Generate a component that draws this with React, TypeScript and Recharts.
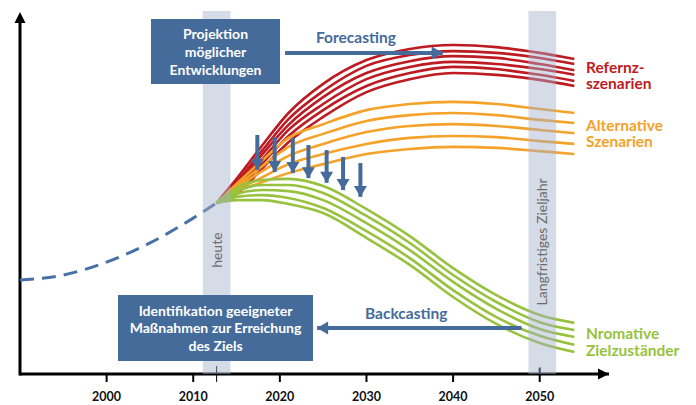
import React from "react";
import {
  ComposedChart,
  Line,
  Scatter,
  XAxis,
  YAxis,
  ReferenceArea,
  ReferenceLine,
  ReferenceDot,
} from "recharts";

const FONT = "Lato, 'Open Sans', sans-serif";
const BLUE = "#456b9b";
const RED = "#bd1a21";
const ORANGE = "#f5a22a";
const GREEN = "#97c23d";
const BAND = "#a3b0cc";

// x axis ticks
const TICKS = [2000, 2010, 2020, 2030, 2040, 2050];

// historic development (dashed)
const HIST_YEARS = [1990, 1995, 2000, 2005, 2010, 2012.7];
const HIST = [26.1, 27.5, 31.1, 36.4, 43.3, 47.5];

// scenario curves, all start at "heute"
const YEARS = [2012.7, 2015, 2018, 2021, 2025, 2030, 2035, 2040, 2045, 2050, 2054];

const REF_1 = [47.5, 54.2, 63.6, 72.5, 80.6, 87.2, 90.3, 91.4, 90.8, 89.2, 87.5];
const REF_2 = [47.5, 53.3, 62.2, 70.8, 78.6, 85.6, 88.6, 89.7, 89.2, 87.8, 86.1];
const REF_3 = [47.5, 52.5, 61.1, 69.2, 76.9, 83.6, 86.9, 88.3, 87.8, 86.1, 84.4];
const REF_4 = [47.5, 51.7, 59.7, 67.8, 75.0, 81.9, 85.3, 86.7, 86.1, 84.7, 83.1];
const REF_5 = [47.5, 50.8, 58.6, 66.1, 73.3, 80.0, 83.6, 85.3, 84.7, 83.1, 81.4];
const REF_6 = [47.5, 50.0, 57.2, 64.4, 71.4, 78.3, 81.9, 83.6, 83.1, 81.7, 80.0];

const ALT_1 = [47.5, 52.8, 59.4, 65.6, 69.4, 73.3, 75.0, 75.6, 75.0, 73.6, 72.5];
const ALT_2 = [47.5, 52.2, 57.8, 63.1, 66.7, 70.3, 71.9, 72.5, 71.9, 70.6, 69.7];
const ALT_3 = [47.5, 51.7, 56.4, 60.6, 63.9, 67.2, 68.9, 69.4, 68.9, 67.8, 66.9];
const ALT_4 = [47.5, 51.1, 54.7, 58.3, 61.1, 63.9, 65.6, 66.1, 65.8, 64.7, 63.9];
const ALT_5 = [47.5, 50.6, 53.3, 55.8, 58.3, 61.1, 62.5, 63.1, 62.8, 61.9, 61.1];

const NORM_1 = [47.5, 51.7, 53.9, 54.2, 52.2, 45.8, 38.3, 29.4, 21.9, 16.4, 14.2];
const NORM_2 = [47.5, 50.8, 52.5, 52.5, 50.3, 43.9, 36.4, 27.5, 20.0, 14.4, 12.2];
const NORM_3 = [47.5, 50.0, 51.1, 50.8, 48.3, 41.9, 34.4, 25.6, 18.1, 12.5, 10.3];
const NORM_4 = [47.5, 49.2, 49.7, 48.9, 46.1, 39.7, 32.2, 23.3, 15.8, 10.6, 8.1];
const NORM_5 = [47.5, 48.3, 48.3, 47.2, 44.7, 37.8, 30.3, 21.4, 13.9, 8.6, 6.1];

// downward arrows (forecast -> normative)
const ARROW_YEARS = [2017.4, 2019.4, 2021.5, 2023.3, 2025.4, 2027.3, 2029.3];
const ARROW_TOP = [66.4, 65.8, 65.6, 63.6, 62.2, 60.3, 58.6];
const ARROW_TIP = [56.7, 56.1, 55.8, 54.4, 53.1, 51.1, 49.2];

// forecasting / backcasting arrows
const FORE_X = [2020.6, 2038.8];
const FORE_V = 89.2;
const BACK_X = [2047.9, 2024.3];
const BACK_V = 12.8;

const HEUTE = 2012.7;
const ZIEL = 2050.3;

const pts = (xs: number[], vs: number[]) => xs.map((year, i) => ({ year, v: vs[i] }));

const heads = [
  ...ARROW_YEARS.map((year, i) => ({ year, v: ARROW_TIP[i], dir: "down", kind: "arrow" })),
  { year: FORE_X[1], v: FORE_V, dir: "right", kind: "arrow" },
  { year: BACK_X[1], v: BACK_V, dir: "left", kind: "arrow" },
  { year: 1990, v: 100, dir: "up", kind: "axis" },
  { year: 2058, v: 0, dir: "right", kind: "axis" },
];

function Head(props: any) {
  const { cx, cy, payload } = props;
  const axis = payload.kind === "axis";
  const c = axis ? "#000" : BLUE;
  const L = 11;
  const W = axis ? 5.5 : 6.5;
  let p: number[][] = [];
  if (payload.dir === "down") p = [[cx - W, cy - L], [cx + W, cy - L], [cx, cy]];
  if (payload.dir === "up") p = [[cx - W, cy + L - 2], [cx + W, cy + L - 2], [cx, cy - 2]];
  if (payload.dir === "right") p = [[cx - L, cy - W], [cx - L, cy + W], [cx, cy]];
  if (payload.dir === "left") p = [[cx + L, cy - W], [cx + L, cy + W], [cx, cy]];
  return <polygon points={p.map((q) => q.join(",")).join(" ")} fill={c} />;
}

const scenarios = [
  { key: "r1", d: REF_1, c: RED },
  { key: "r2", d: REF_2, c: RED },
  { key: "r3", d: REF_3, c: RED },
  { key: "r4", d: REF_4, c: RED },
  { key: "r5", d: REF_5, c: RED },
  { key: "r6", d: REF_6, c: RED },
  { key: "a1", d: ALT_1, c: ORANGE },
  { key: "a2", d: ALT_2, c: ORANGE },
  { key: "a3", d: ALT_3, c: ORANGE },
  { key: "a4", d: ALT_4, c: ORANGE },
  { key: "a5", d: ALT_5, c: ORANGE },
  { key: "n1", d: NORM_1, c: GREEN },
  { key: "n2", d: NORM_2, c: GREEN },
  { key: "n3", d: NORM_3, c: GREEN },
  { key: "n4", d: NORM_4, c: GREEN },
  { key: "n5", d: NORM_5, c: GREEN },
];

const boxStyle: React.CSSProperties = {
  position: "absolute",
  background: BLUE,
  color: "#fff",
  fontFamily: FONT,
  fontWeight: 700,
  fontSize: 14,
  textAlign: "center",
  display: "flex",
  flexDirection: "column",
  justifyContent: "center",
};

const labelStyle: React.CSSProperties = {
  position: "absolute",
  fontFamily: FONT,
  fontWeight: 700,
  fontSize: 15.5,
  lineHeight: "16.5px",
  whiteSpace: "nowrap",
};

export default function App() {
  return (
    <div style={{ position: "absolute", left: 0, top: 0, width: 696, height: 405, background: "#fff" }}>
      <ComposedChart width={696} height={405} margin={{ top: 14, right: 87, bottom: 1, left: 20 }}>
        <XAxis
          type="number"
          dataKey="year"
          domain={[1990, 2058]}
          ticks={TICKS}
          height={30}
          axisLine={{ stroke: "#000", strokeWidth: 3 }}
          tickLine={{ stroke: "#000", strokeWidth: 2 }}
          tickSize={8}
          tickMargin={10}
          tick={{ fontSize: 12.5, fontWeight: 700, fill: "#111", fontFamily: FONT }}
        />
        <YAxis type="number" dataKey="v" domain={[0, 100]} hide />

        {/* y axis line */}
        <ReferenceLine
          segment={[{ x: 1990, y: -0.4 }, { x: 1990, y: 98 }]}
          stroke="#000"
          strokeWidth={3}
          ifOverflow="visible"
        />

        <Line
          data={pts(HIST_YEARS, HIST)}
          dataKey="v"
          type="monotone"
          stroke="#4670a6"
          strokeWidth={3}
          strokeDasharray="14 8"
          dot={false}
          isAnimationActive={false}
        />

        {scenarios.map((s) => (
          <Line
            key={s.key}
            data={pts(YEARS, s.d)}
            dataKey="v"
            type="monotone"
            stroke={s.c}
            strokeWidth={2.6}
            dot={false}
            isAnimationActive={false}
          />
        ))}

        {ARROW_YEARS.map((year, i) => (
          <Line
            key={"arr" + i}
            data={[{ year, v: ARROW_TOP[i] }, { year, v: ARROW_TIP[i] }]}
            dataKey="v"
            type="linear"
            stroke={BLUE}
            strokeWidth={4}
            dot={false}
            isAnimationActive={false}
          />
        ))}
        <Line
          data={FORE_X.map((year) => ({ year, v: FORE_V }))}
          dataKey="v"
          type="linear"
          stroke={BLUE}
          strokeWidth={4}
          dot={false}
          isAnimationActive={false}
        />
        <Line
          data={BACK_X.map((year) => ({ year, v: BACK_V }))}
          dataKey="v"
          type="linear"
          stroke={BLUE}
          strokeWidth={4}
          dot={false}
          isAnimationActive={false}
        />
        <Scatter data={heads} dataKey="v" shape={(p: any) => <Head {...p} />} isAnimationActive={false} />

        <ReferenceArea
          x1={2011.1}
          x2={2014.3}
          y1={0}
          y2={100.8}
          fill={BAND}
          fillOpacity={0.45}
          stroke="none"
          ifOverflow="visible"
          zIndex={900}
        />
        <ReferenceArea
          x1={2048.7}
          x2={2051.9}
          y1={0}
          y2={100.8}
          fill={BAND}
          fillOpacity={0.45}
          stroke="none"
          ifOverflow="visible"
          zIndex={900}
        />
        <ReferenceLine
          segment={[{ x: HEUTE, y: -2.2 }, { x: HEUTE, y: 2.2 }]}
          stroke="#000"
          strokeWidth={1}
          ifOverflow="visible"
        />
        <ReferenceLine
          segment={[{ x: 2050, y: 0 }, { x: 2050, y: 1.8 }]}
          stroke="#000"
          strokeWidth={2}
          ifOverflow="visible"
        />
        <ReferenceDot
          x={HEUTE}
          y={34.4}
          r={0}
          ifOverflow="visible"
          zIndex={950}
          label={{ value: "heute", angle: -90, position: "center", fill: "#6b6b6b", fontSize: 14, fontFamily: FONT }}
        />
        <ReferenceDot
          x={ZIEL}
          y={36.7}
          r={0}
          ifOverflow="visible"
          zIndex={950}
          label={{
            value: "Langfristiges Zieljahr",
            angle: -90,
            position: "center",
            fill: "#6b6b6b",
            fontSize: 14,
            fontFamily: FONT,
          }}
        />
      </ComposedChart>

      {/* text boxes */}
      <div style={{ ...boxStyle, left: 151, top: 19, width: 129, height: 65, lineHeight: "18px" }}>
        <div>Projektion</div>
        <div>möglicher</div>
        <div>Entwicklungen</div>
      </div>
      <div style={{ ...boxStyle, left: 118, top: 295, width: 195, height: 66, lineHeight: "17.5px" }}>
        <div>Identifikation geeigneter</div>
        <div>Maßnahmen zur Erreichung</div>
        <div>des Ziels</div>
      </div>

      {/* arrow captions */}
      <div style={{ ...labelStyle, color: BLUE, left: 316, top: 29 }}>Forecasting</div>
      <div style={{ ...labelStyle, color: BLUE, left: 365, top: 305 }}>Backcasting</div>

      {/* scenario labels */}
      <div style={{ ...labelStyle, color: RED, left: 586, top: 58.5 }}>
        Refernz-
        <br />
        szenarien
      </div>
      <div style={{ ...labelStyle, color: ORANGE, left: 586, top: 116.5 }}>
        Alternative
        <br />
        Szenarien
      </div>
      <div style={{ ...labelStyle, color: GREEN, left: 586, top: 325 }}>
        Nromative
        <br />
        Zielzuständer
      </div>
    </div>
  );
}
